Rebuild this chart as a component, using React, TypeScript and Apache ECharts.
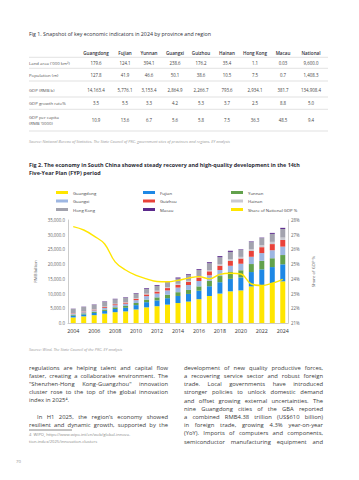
import React, { useEffect, useRef } from 'react';
import * as echarts from 'echarts';

// ---------- Fig 1 table data ----------
const fig1Title = 'Fig 1. Snapshot of key economic indicators in 2024 by province and region';
const regions = ['Guangdong', 'Fujian', 'Yunnan', 'Guangxi', 'Guizhou', 'Hainan', 'Hong Kong', 'Macau', 'National'];
const rowLabels = ["Land area ('000 km²)", 'Population (m)', 'GDP (RMB b)', 'GDP growth rate%', "GDP per capita\n(RMB '0000)"];
const landArea = ['179.6', '124.1', '394.1', '238.6', '176.2', '35.4', '1.1', '0.03', '9,600.0'];
const population = ['127.8', '41.9', '46.6', '50.1', '38.6', '10.5', '7.5', '0.7', '1,408.3'];
const gdpRow = ['14,163.4', '5,776.1', '3,153.4', '2,864.9', '2,266.7', '793.6', '2,934.1', '381.7', '134,908.4'];
const growthRow = ['3.5', '5.5', '3.3', '4.2', '5.3', '3.7', '2.5', '8.8', '5.0'];
const perCapitaRow = ['10.9', '13.6', '6.7', '5.6', '5.8', '7.5', '36.3', '48.5', '9.4'];
const source1 = 'Source: National Bureau of Statistics, The State Council of PRC, government sites of provinces and regions, EY analysis';

// ---------- Fig 2 chart data ----------
const fig2Title = [
  'Fig 2. The economy in South China showed steady recovery and high-quality development in the 14th',
  'Five-Year Plan (FYP) period',
];
const years = ['2004', '2005', '2006', '2007', '2008', '2009', '2010', '2011', '2012', '2013', '2014', '2015', '2016', '2017', '2018', '2019', '2020', '2021', '2022', '2023', '2024'];
const guangdong = [1886, 2256, 2659, 3178, 3680, 3948, 4601, 5321, 5707, 6247, 6781, 7281, 8085, 9165, 9995, 10767, 11076, 12437, 12912, 13567, 14163];
const fujian = [603, 657, 762, 925, 1082, 1224, 1474, 1756, 1970, 2188, 2406, 2598, 2881, 3330, 3869, 4233, 4390, 4881, 5311, 5436, 5776];
const yunnan = [308, 346, 400, 477, 569, 617, 722, 889, 1031, 1183, 1281, 1362, 1479, 1838, 2088, 2322, 2452, 2715, 2895, 3002, 3153];
const guangxi = [343, 398, 475, 583, 703, 776, 957, 1172, 1304, 1445, 1567, 1680, 1832, 1878, 2035, 2124, 2216, 2474, 2630, 2720, 2865];
const guizhou = [159, 201, 234, 288, 356, 391, 460, 570, 685, 808, 927, 1050, 1178, 1354, 1481, 1677, 1783, 1959, 2016, 2091, 2267];
const hainan = [80, 90, 110, 130, 150, 165, 206, 252, 286, 318, 350, 370, 405, 446, 483, 531, 553, 648, 682, 756, 794];
const hongKong = [1399, 1487, 1542, 1610, 1524, 1462, 1549, 1605, 1658, 1698, 1790, 1921, 2132, 2306, 2393, 2508, 2382, 2381, 2418, 2715, 2934];
const macau = [85, 98, 120, 150, 167, 167, 192, 242, 283, 332, 358, 296, 290, 340, 383, 383, 180, 208, 148, 333, 382];
const shareOfNational = [27.55, 27.32, 26.9, 26.37, 25.15, 24.6, 24.23, 24.0, 23.82, 23.8, 23.9, 24.05, 24.15, 24.0, 24.3, 24.38, 24.33, 23.65, 23.55, 23.7, 23.97];
const source2 = 'Source: Wind, The State Council of the PRC, EY analysis';

// ---------- Body text ----------
const leftColumn = [
  'regulations are helping talent and capital flow',
  'faster, creating a collaborative environment. The',
  '"Shenzhen-Hong Kong-Guangzhou" innovation',
  'cluster rose to the top of the global innovation',
  'index in 2025⁴.',
];
const leftColumn2 = [
  'In H1 2025, the region\u2019s economy showed',
  'resilient and dynamic growth, supported by the',
];
const footnote = [
  '4  WIPO, https://www.wipo.int/en/web/global-innova-',
  'tion-index/2025/innovation-clusters',
];
const rightColumn = [
  'development of new quality productive forces,',
  'a recovering service sector and robust foreign',
  'trade. Local governments have introduced',
  'stronger policies to unlock domestic demand',
  'and offset growing external uncertainties. The',
  'nine Guangdong cities of the GBA reported',
  'a combined RMB4.38 trillion (US$610 billion)',
  'in foreign trade, growing 4.3% year-on-year',
  '(YoY). Imports of computers and components,',
  'semiconductor manufacturing equipment and',
];
const pageNumber = '70';

const FONT = '"Open Sans", "Noto Sans", sans-serif';
const BODY_SIZE = 5.85;

function txt(x: number, y: number, text: string, o: any = {}) {
  return {
    type: 'text',
    x,
    y,
    silent: true,
    style: {
      text,
      fill: o.fill || '#3a3a3a',
      fontSize: o.size || 5,
      fontFamily: FONT,
      fontWeight: o.weight || 'normal',
      fontStyle: o.style || 'normal',
      align: o.align || 'left',
      textAlign: o.align || 'left',
      verticalAlign: 'middle',
      textVerticalAlign: 'middle',
      lineHeight: o.lineHeight,
    },
  };
}

function hline(x1: number, x2: number, y: number, stroke = '#cfcfcf', w = 0.6) {
  return { type: 'line', silent: true, shape: { x1, y1: y, x2, y2: y }, style: { stroke, lineWidth: w } };
}

let measureCtx: CanvasRenderingContext2D | null = null;
function measure(s: string, size: number) {
  if (!measureCtx) measureCtx = document.createElement('canvas').getContext('2d');
  if (!measureCtx) return s.length * size * 0.5;
  measureCtx.font = `${size}px "Open Sans", "Noto Sans", sans-serif`;
  return measureCtx.measureText(s).width;
}

// justified line: one text element per word, spread over [x0, x1]
function justified(line: string, x0: number, x1: number, y: number, justify: boolean, out: any[]) {
  if (!justify) {
    out.push(txt(x0, y, line, { size: BODY_SIZE }));
    return;
  }
  const words = line.split(' ');
  const widths = words.map((w) => measure(w, BODY_SIZE));
  const total = widths.reduce((a, b) => a + b, 0);
  const gap = words.length > 1 ? (x1 - x0 - total) / (words.length - 1) : 0;
  let x = x0;
  words.forEach((w, i) => {
    out.push(txt(x, y, w, { size: BODY_SIZE }));
    x += widths[i] + gap;
  });
}

export default function App() {
  const ref = useRef<HTMLDivElement>(null);

  useEffect(() => {
    if (!ref.current) return;
    const chart = echarts.init(ref.current, undefined, { renderer: 'svg' });

    const colX = [96, 125, 149, 175, 201, 227, 255, 283, 311];
    const rowY = [62.5, 74.5, 89.5, 103, 120];
    const rows = [landArea, population, gdpRow, growthRow, perCapitaRow];
    const lineYs = [57.3, 68.3, 81, 97, 109.3, 131];

    const graphics: any[] = [];
    graphics.push(txt(29, 34.3, fig1Title, { size: 5.3, weight: 500, fill: '#2e2e38' }));
    regions.forEach((r, i) => graphics.push(txt(colX[i], 52.5, r, { size: 4.6, weight: 600, align: 'center', fill: '#2e2e38' })));
    lineYs.forEach((y) => graphics.push(hline(29, 328, y)));
    rowLabels.forEach((l, i) => graphics.push(txt(29, rowY[i], l, { size: 4.3, fill: '#555', lineHeight: 6 })));
    rows.forEach((row, ri) => row.forEach((v, ci) => graphics.push(txt(colX[ci], rowY[ri], v, { size: 4.4, align: 'center', fill: '#444' }))));
    graphics.push(txt(29, 141, source1, { size: 3.9, style: 'italic', fill: '#9a9a9a' }));

    graphics.push(txt(29, 165, fig2Title[0], { size: 5.4, weight: 'bold', fill: '#2e2e38' }));
    graphics.push(txt(29, 173, fig2Title[1], { size: 5.4, weight: 'bold', fill: '#2e2e38' }));
    graphics.push(txt(29, 349, source2, { size: 3.9, style: 'italic', fill: '#9a9a9a' }));

    leftColumn.forEach((l, i) => justified(l, 29, 168, 367.7 + i * 8.15, i < leftColumn.length - 1, graphics));
    leftColumn2.forEach((l, i) => justified(l, i === 0 ? 37 : 29, 168, 416.7 + i * 8.3, true, graphics));
    graphics.push(hline(29, 72, 430, '#3a3a3a', 0.6));
    footnote.forEach((l, i) => graphics.push(txt(29, 434.3 + i * 7.3, l, { size: 4.1, fill: '#8a8a8a' })));
    rightColumn.forEach((l, i) => justified(l, 184, 323, 367.7 + i * 8.2, true, graphics));
    graphics.push(txt(16, 461, pageNumber, { size: 4.3, fill: '#8a8a8a' }));

    const barSeries = [
      { name: 'Guangdong', data: guangdong, color: '#FFE600' },
      { name: 'Fujian', data: fujian, color: '#1E88E5' },
      { name: 'Yunnan', data: yunnan, color: '#62A14C' },
      { name: 'Guangxi', data: guangxi, color: '#9DB6E2' },
      { name: 'Guizhou', data: guizhou, color: '#E9423A' },
      { name: 'Hainan', data: hainan, color: '#C9C9D0' },
      { name: 'Hong Kong', data: hongKong, color: '#A3A3AE' },
      { name: 'Macau', data: macau, color: '#5B2A8C' },
    ].map((s) => ({
      name: s.name,
      type: 'bar',
      stack: 'total',
      barWidth: 5,
      data: s.data,
      itemStyle: { color: s.color },
    }));

    const legendBase = {
      orient: 'vertical',
      top: 189.5,
      padding: 0,
      itemWidth: 12,
      itemHeight: 3,
      itemGap: 2.5,
      icon: 'rect',
      selectedMode: false,
      textStyle: { fontSize: 4.3, color: '#404040', fontFamily: FONT, lineHeight: 6 },
    };

    chart.setOption({
      animation: false,
      textStyle: { fontFamily: FONT },
      legend: [
        { ...legendBase, left: 56, data: ['Guangdong', 'Guangxi', 'Hong Kong'] },
        { ...legendBase, left: 143, data: ['Fujian', 'Guizhou', 'Macau'] },
        { ...legendBase, left: 231, data: ['Yunnan', 'Hainan', 'Share of National GDP %'] },
      ],
      grid: { left: 68, right: 71, top: 220, bottom: 157, containLabel: false },
      xAxis: {
        type: 'category',
        data: years,
        axisLine: { lineStyle: { color: '#bfbfbf', width: 0.8 } },
        axisTick: { show: false },
        axisLabel: { interval: 1, fontSize: 5.3, color: '#333', margin: 5.5, fontFamily: FONT },
      },
      yAxis: [
        {
          type: 'value',
          min: 0,
          max: 35000,
          interval: 5000,
          name: 'RMB billion',
          nameLocation: 'middle',
          nameGap: 28,
          nameTextStyle: { fontSize: 4.3, color: '#555', fontFamily: FONT },
          axisLine: { show: true, lineStyle: { color: '#bfbfbf', width: 0.8 } },
          axisTick: { show: false },
          splitLine: { show: false },
          axisLabel: {
            fontSize: 4.4,
            color: '#666',
            margin: 3,
            fontFamily: FONT,
            formatter: (v: number) => v.toLocaleString('en-US', { minimumFractionDigits: 1, maximumFractionDigits: 1 }),
          },
        },
        {
          type: 'value',
          min: 21,
          max: 28,
          interval: 1,
          position: 'right',
          name: 'Share of GDP %',
          nameLocation: 'middle',
          nameGap: 22,
          nameTextStyle: { fontSize: 4.3, color: '#555', fontFamily: FONT },
          axisLine: { show: true, lineStyle: { color: '#bfbfbf', width: 0.8 } },
          axisTick: { show: false },
          splitLine: { show: false },
          axisLabel: { fontSize: 4.4, color: '#666', margin: 3, fontFamily: FONT, formatter: '{value}%' },
        },
      ],
      series: [
        ...barSeries,
        {
          name: 'Share of National GDP %',
          type: 'line',
          yAxisIndex: 1,
          smooth: 0.4,
          symbol: 'none',
          data: shareOfNational,
          itemStyle: { color: '#FFE600' },
          lineStyle: { color: '#FFE600', width: 1.4 },
          z: 5,
        },
      ],
      graphic: { elements: graphics },
    });

    return () => chart.dispose();
  }, []);

  return (
    <div
      ref={ref}
      style={{ position: 'absolute', left: 0, top: 0, width: 359, height: 480, background: '#fff' }}
    />
  );
}
